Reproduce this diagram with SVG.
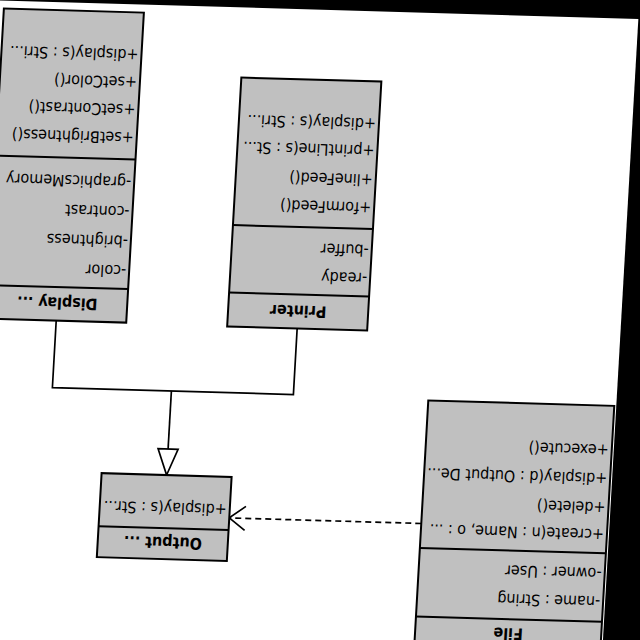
<svg xmlns="http://www.w3.org/2000/svg" width="640" height="640" viewBox="0 0 640 640">
<style>
.box{fill:#c0c0c0;stroke:#000;stroke-width:2}
.sep{stroke:#000;stroke-width:2}
.t{font-family:"DejaVu Sans Condensed","DejaVu Sans",sans-serif;font-size:16px;fill:#000}
.h{font-family:"DejaVu Sans Condensed","DejaVu Sans",sans-serif;font-size:16px;font-weight:bold;fill:#000;text-anchor:middle}
.c{fill:none;stroke:#000;stroke-width:1.7}
</style>
<rect x="0" y="0" width="640" height="640" fill="#000"/>
<g transform="matrix(-1,-0.029,0.057,-1,640,640)">
<rect x="37" y="-300" width="900" height="920" fill="#fff"/>
<g id="connectors">
<polyline class="c" points="601,302 601,235 360,235 360,301"/>
<line class="c" x1="482" y1="235" x2="482" y2="177"/>
<polygon points="482,151 472,177 492,177" fill="#fff" stroke="#000" stroke-width="1.7"/>
<line class="c" x1="225" y1="110" x2="416" y2="110" stroke-dasharray="6 4"/>
<polyline class="c" points="401,98 417,110 401,122"/>
</g>
<g id="display">
<rect class="box" x="531" y="302" width="140" height="310"/>
<line class="sep" x1="531" y1="335.5" x2="671" y2="335.5"/>
<line class="sep" x1="531" y1="465" x2="671" y2="465"/>
<text class="h" x="601" y="325">Display ...</text>
<text class="t" x="534" y="359">-color</text>
<text class="t" x="534" y="388.5">-brightness</text>
<text class="t" x="534" y="418">-contrast</text>
<text class="t" x="534" y="447.5">-graphicsMemory</text>
<text class="t" x="534" y="492">+setBrightness()</text>
<text class="t" x="534" y="520">+setContrast()</text>
<text class="t" x="534" y="547.5">+setColor()</text>
<text class="t" x="534" y="575">+display(s : Stri...</text>
</g>
<g id="printer">
<rect class="box" x="290" y="301" width="140" height="249"/>
<line class="sep" x1="290" y1="335" x2="430" y2="335"/>
<line class="sep" x1="290" y1="402.5" x2="430" y2="402.5"/>
<text class="h" x="360" y="324">Printer</text>
<text class="t" x="293" y="358.5">-ready</text>
<text class="t" x="293" y="386.5">-buffer</text>
<text class="t" x="293" y="429">+formFeed()</text>
<text class="t" x="293" y="457">+lineFeed()</text>
<text class="t" x="293" y="486">+printLine(s : St...</text>
<text class="t" x="293" y="513">+display(s : Stri...</text>
</g>
<g id="output">
<rect class="box" x="417" y="67" width="130" height="84"/>
<line class="sep" x1="417" y1="98" x2="547" y2="98"/>
<text class="h" x="482" y="89">Output ...</text>
<text class="t" x="420" y="123.5">+display(s : Str...</text>
</g>
<g id="file">
<rect class="box" x="39" y="-16" width="186" height="249"/>
<line class="sep" x1="39" y1="17" x2="225" y2="17"/>
<line class="sep" x1="39" y1="85.5" x2="225" y2="85.5"/>
<text class="h" x="132" y="8">File</text>
<text class="t" x="42" y="42.3">-name : String</text>
<text class="t" x="42" y="70.7">-owner : User</text>
<text class="t" x="42" y="109.5">+create(n : Name, o : ...</text>
<text class="t" x="42" y="136.5">+delete()</text>
<text class="t" x="42" y="165.5">+display(d : Output De...</text>
<text class="t" x="42" y="194">+execute()</text>
</g>
</g>
</svg>
